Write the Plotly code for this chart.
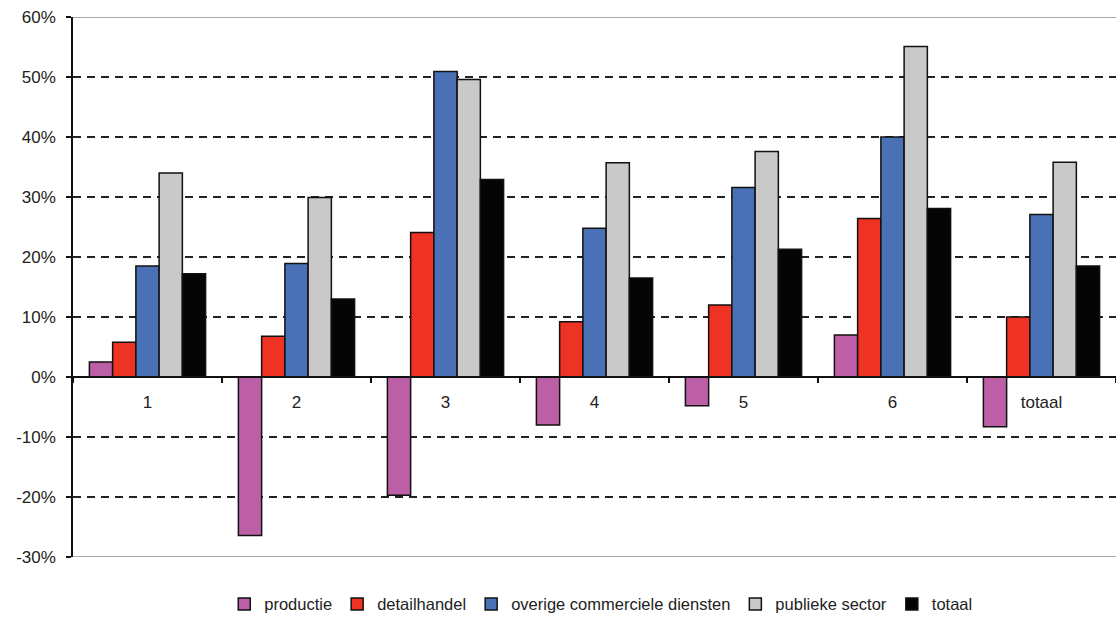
import plotly.graph_objects as go

categories = ["1", "2", "3", "4", "5", "6", "totaal"]

productie = [2.5, -26.4, -19.7, -8.0, -4.8, 7.0, -8.3]
detailhandel = [5.8, 6.8, 24.1, 9.2, 12.0, 26.4, 10.0]
overige_commerciele_diensten = [18.5, 18.9, 50.9, 24.8, 31.6, 40.0, 27.1]
publieke_sector = [34.0, 29.9, 49.6, 35.7, 37.6, 55.1, 35.8]
totaal = [17.2, 13.0, 32.9, 16.5, 21.3, 28.1, 18.5]

series = [
    ("productie", productie, "#BC5FA6"),
    ("detailhandel", detailhandel, "#EE3223"),
    ("overige commerciele diensten", overige_commerciele_diensten, "#4A70B6"),
    ("publieke sector", publieke_sector, "#C9C9C9"),
    ("totaal", totaal, "#050505"),
]

y_ticks = list(range(-30, 61, 10))

fig = go.Figure()
for name, values, color in series:
    fig.add_trace(go.Bar(
        name=name,
        x=categories,
        y=values,
        marker=dict(color=color, line=dict(color="#111111", width=1.5)),
    ))

font_family = "Liberation Sans, Arial, sans-serif"

fig.update_layout(
    width=1116,
    height=622,
    margin=dict(l=73, r=0, t=17, b=65),
    paper_bgcolor="white",
    plot_bgcolor="white",
    barmode="group",
    bargap=0.22,
    bargroupgap=0,
    font=dict(family=font_family, size=17, color="#222222"),
    showlegend=True,
    legend=dict(
        orientation="h",
        x=0.506,
        xanchor="center",
        y=-0.055,
        yanchor="top",
        font=dict(family=font_family, size=16.5, color="#222222"),
        itemwidth=30,
        tracegroupgap=0,
    ),
    xaxis=dict(
        type="category",
        anchor="free",
        position=1 / 3,
        showline=True,
        linecolor="#111111",
        linewidth=1.5,
        ticks="outside",
        tickson="boundaries",
        ticklen=5,
        tickwidth=1.5,
        tickcolor="#111111",
        ticklabelstandoff=10,
        showgrid=False,
        tickfont=dict(size=17, color="#222222"),
    ),
    yaxis=dict(
        range=[-30, 60],
        tickvals=y_ticks,
        ticktext=[f"{v}%" for v in y_ticks],
        showline=True,
        linecolor="#111111",
        linewidth=1.5,
        ticks="outside",
        ticklen=5,
        tickwidth=1.5,
        tickcolor="#111111",
        ticklabelstandoff=7,
        showgrid=True,
        gridcolor="#222222",
        gridwidth=1.5,
        griddash="8px,6px",
        zeroline=False,
        tickfont=dict(size=17, color="#222222"),
    ),
)

# light grey frame lines at the top and bottom of the plot area
for yv in (60, -30):
    fig.add_shape(
        type="line", xref="paper", yref="y",
        x0=0, x1=1, y0=yv, y1=yv,
        line=dict(color="#AAAAAA", width=2),
        layer="above",
    )

fig.write_html("out.html")
